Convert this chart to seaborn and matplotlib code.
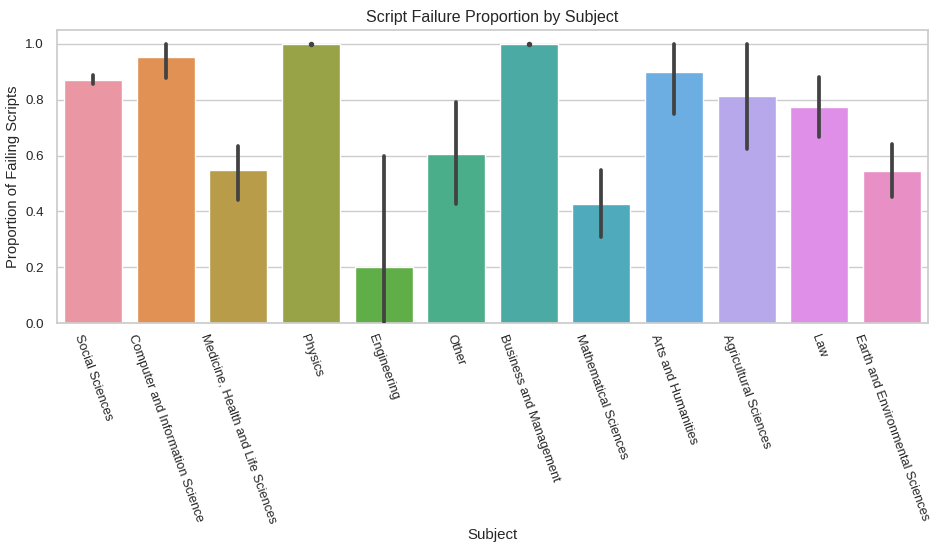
import matplotlib
matplotlib.use("Agg")
import matplotlib.pyplot as plt
import seaborn as sns
import pandas as pd

subjects = [
    "Social Sciences",
    "Computer and Information Science",
    "Medicine, Health and Life Sciences",
    "Physics",
    "Engineering",
    "Other",
    "Business and Management",
    "Mathematical Sciences",
    "Arts and Humanities",
    "Agricultural Sciences",
    "Law",
    "Earth and Environmental Sciences",
]
proportion = [0.871, 0.953, 0.548, 1.0, 0.2, 0.606, 1.0, 0.426, 0.899, 0.813, 0.773, 0.544]
ci_low = [0.857, 0.878, 0.441, 1.0, 0.0, 0.427, 1.0, 0.307, 0.748, 0.623, 0.665, 0.453]
ci_high = [0.889, 1.0, 0.634, 1.0, 0.6, 0.792, 1.0, 0.548, 1.0, 1.0, 0.882, 0.641]

sns.set_theme(style="whitegrid")
plt.rcParams["font.family"] = ["Liberation Sans", "DejaVu Sans"]

df = pd.DataFrame({"Subject": subjects, "Proportion": proportion})

fig, ax = plt.subplots(figsize=(9.3, 5.52), dpi=100)
fig.subplots_adjust(left=57 / 930, right=928 / 930, top=1 - 30 / 552, bottom=1 - 323 / 552)

palette = sns.husl_palette(len(subjects), l=.7)
sns.barplot(data=df, x="Subject", y="Proportion", hue="Subject", palette=palette,
            saturation=0.75, errorbar=None, legend=False, ax=ax)

for i, (lo, hi) in enumerate(zip(ci_low, ci_high)):
    if hi > lo:
        ax.plot([i, i], [lo, hi], color=".26", linewidth=2.7, solid_capstyle="round", zorder=3)
    else:
        ax.plot([i], [lo], marker="o", markersize=2.9, color=".26", zorder=3, clip_on=False)

ax.set_xlim(-0.5, len(subjects) - 0.5)
ax.set_ylim(0, 1.05)
ax.set_title("Script Failure Proportion by Subject", fontsize=11.5)
ax.set_xlabel("Subject", fontsize=10.8, labelpad=2)
ax.set_ylabel("Proportion of Failing Scripts", fontsize=10.6)
ax.tick_params(axis="x", rotation=-70, labelsize=9.3, pad=1)
ax.tick_params(axis="y", labelsize=9.6)

fig.savefig("out.png", dpi=100)
